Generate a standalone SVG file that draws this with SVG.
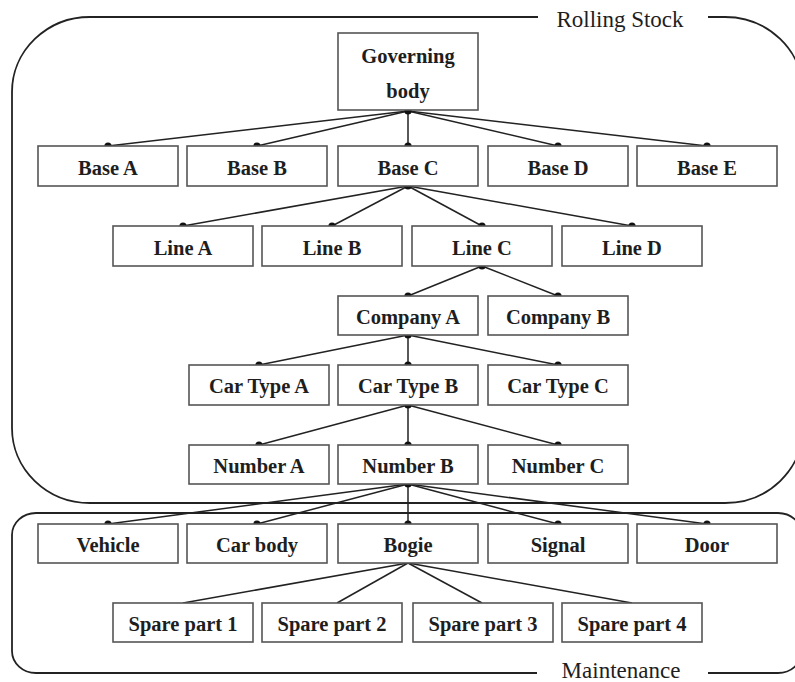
<svg xmlns="http://www.w3.org/2000/svg" width="795" height="682" viewBox="0 0 795 682">
  <style>
    .box { fill: #ffffff; stroke: #555555; stroke-width: 1.6; }
    .lbl { font-family: "Liberation Serif", "Times New Roman", serif; font-size: 20.5px; font-weight: bold; fill: #1e1e1e; text-anchor: middle; }
    .title { font-family: "Liberation Serif", "Times New Roman", serif; font-size: 23px; fill: #1e1e1e; text-anchor: middle; }
    .frame { fill: none; stroke: #222222; stroke-width: 1.8; }
    .conn line { stroke: #222222; stroke-width: 1.5; }
    .conn circle { fill: #111111; }
  </style>
  <rect width="795" height="682" fill="#ffffff"/>

  <!-- group frames -->
  <g id="frame-rolling-stock">
    <path class="frame" d="M538,17 L90,17 A78,75 0 0 0 12,92 L12,428 A78,75 0 0 0 90,503 L725,503 A78,75 0 0 0 803,428 L803,92 A78,75 0 0 0 725,17 L708,17"/>
    <text class="title" x="620" y="27">Rolling Stock</text>
  </g>
  <g id="frame-maintenance">
    <path class="frame" d="M537,673 L36,673 A24,22 0 0 1 12,651 L12,535 A24,22 0 0 1 36,513 L778,513 A24,22 0 0 1 802,535 L802,651 A24,22 0 0 1 778,673 L708,673"/>
    <text class="title" x="621" y="678">Maintenance</text>
  </g>

  <!-- connectors -->
  <g id="connectors" class="conn">
    <!-- Governing body to bases -->
    <line x1="408" y1="111" x2="108" y2="146"/>
    <line x1="408" y1="111" x2="257" y2="146"/>
    <line x1="408" y1="111" x2="408" y2="146"/>
    <line x1="408" y1="111" x2="558" y2="146"/>
    <line x1="408" y1="111" x2="707" y2="146"/>
    <circle cx="408" cy="111" r="3.6"/>
    <circle cx="108" cy="146" r="3.6"/>
    <circle cx="257" cy="146" r="3.6"/>
    <circle cx="408" cy="146" r="3.6"/>
    <circle cx="558" cy="146" r="3.6"/>
    <circle cx="707" cy="146" r="3.6"/>
    <!-- Base C to lines -->
    <line x1="408" y1="186" x2="183" y2="226"/>
    <line x1="408" y1="186" x2="332" y2="226"/>
    <line x1="408" y1="186" x2="482" y2="226"/>
    <line x1="408" y1="186" x2="632" y2="226"/>
    <circle cx="408" cy="186" r="3.6"/>
    <circle cx="183" cy="226" r="3.6"/>
    <circle cx="332" cy="226" r="3.6"/>
    <circle cx="482" cy="226" r="3.6"/>
    <circle cx="632" cy="226" r="3.6"/>
    <!-- Line C to companies -->
    <line x1="482" y1="266" x2="408" y2="296"/>
    <line x1="482" y1="266" x2="558" y2="296"/>
    <circle cx="482" cy="266" r="3.6"/>
    <circle cx="408" cy="296" r="3.6"/>
    <circle cx="558" cy="296" r="3.6"/>
    <!-- Company A to car types -->
    <line x1="408" y1="335" x2="259" y2="365"/>
    <line x1="408" y1="335" x2="408" y2="365"/>
    <line x1="408" y1="335" x2="558" y2="365"/>
    <circle cx="408" cy="335" r="3.6"/>
    <circle cx="259" cy="365" r="3.6"/>
    <circle cx="408" cy="365" r="3.6"/>
    <circle cx="558" cy="365" r="3.6"/>
    <!-- Car Type B to numbers -->
    <line x1="408" y1="405" x2="259" y2="445"/>
    <line x1="408" y1="405" x2="408" y2="445"/>
    <line x1="408" y1="405" x2="558" y2="445"/>
    <circle cx="408" cy="405" r="3.6"/>
    <circle cx="259" cy="445" r="3.6"/>
    <circle cx="408" cy="445" r="3.6"/>
    <circle cx="558" cy="445" r="3.6"/>
    <!-- Number B to components -->
    <line x1="408" y1="484" x2="108" y2="524"/>
    <line x1="408" y1="484" x2="257" y2="524"/>
    <line x1="408" y1="484" x2="408" y2="524"/>
    <line x1="408" y1="484" x2="558" y2="524"/>
    <line x1="408" y1="484" x2="707" y2="524"/>
    <circle cx="408" cy="484" r="3.6"/>
    <circle cx="108" cy="524" r="3.6"/>
    <circle cx="257" cy="524" r="3.6"/>
    <circle cx="408" cy="524" r="3.6"/>
    <circle cx="558" cy="524" r="3.6"/>
    <circle cx="707" cy="524" r="3.6"/>
    <!-- Bogie to spare parts -->
    <line x1="408" y1="563" x2="183" y2="603"/>
    <line x1="408" y1="563" x2="337" y2="603"/>
    <line x1="408" y1="563" x2="482" y2="603"/>
    <line x1="408" y1="563" x2="632" y2="603"/>
  </g>

  <!-- nodes -->
  <g id="governing-body"><rect class="box" x="338" y="33" width="140" height="77"/><text class="lbl" x="408" y="63">Governing</text><text class="lbl" x="408" y="98">body</text></g>

  <g id="base-a"><rect class="box" x="38" y="146" width="140" height="40"/><text class="lbl" x="108" y="175">Base A</text></g>
  <g id="base-b"><rect class="box" x="187" y="146" width="140" height="40"/><text class="lbl" x="257" y="175">Base B</text></g>
  <g id="base-c"><rect class="box" x="338" y="146" width="140" height="40"/><text class="lbl" x="408" y="175">Base C</text></g>
  <g id="base-d"><rect class="box" x="488" y="146" width="140" height="40"/><text class="lbl" x="558" y="175">Base D</text></g>
  <g id="base-e"><rect class="box" x="637" y="146" width="140" height="40"/><text class="lbl" x="707" y="175">Base E</text></g>

  <g id="line-a"><rect class="box" x="113" y="226" width="140" height="40"/><text class="lbl" x="183" y="255">Line A</text></g>
  <g id="line-b"><rect class="box" x="262" y="226" width="140" height="40"/><text class="lbl" x="332" y="255">Line B</text></g>
  <g id="line-c"><rect class="box" x="412" y="226" width="140" height="40"/><text class="lbl" x="482" y="255">Line C</text></g>
  <g id="line-d"><rect class="box" x="562" y="226" width="140" height="40"/><text class="lbl" x="632" y="255">Line D</text></g>

  <g id="company-a"><rect class="box" x="338" y="296" width="140" height="39"/><text class="lbl" x="408" y="324">Company A</text></g>
  <g id="company-b"><rect class="box" x="488" y="296" width="140" height="39"/><text class="lbl" x="558" y="324">Company B</text></g>

  <g id="car-type-a"><rect class="box" x="189" y="365" width="140" height="40"/><text class="lbl" x="259" y="393">Car Type A</text></g>
  <g id="car-type-b"><rect class="box" x="338" y="365" width="140" height="40"/><text class="lbl" x="408" y="393">Car Type B</text></g>
  <g id="car-type-c"><rect class="box" x="488" y="365" width="140" height="40"/><text class="lbl" x="558" y="393">Car Type C</text></g>

  <g id="number-a"><rect class="box" x="189" y="445" width="140" height="39"/><text class="lbl" x="259" y="473">Number A</text></g>
  <g id="number-b"><rect class="box" x="338" y="445" width="140" height="39"/><text class="lbl" x="408" y="473">Number B</text></g>
  <g id="number-c"><rect class="box" x="488" y="445" width="140" height="39"/><text class="lbl" x="558" y="473">Number C</text></g>

  <g id="vehicle"><rect class="box" x="38" y="524" width="140" height="39"/><text class="lbl" x="108" y="552">Vehicle</text></g>
  <g id="car-body"><rect class="box" x="187" y="524" width="140" height="39"/><text class="lbl" x="257" y="552">Car body</text></g>
  <g id="bogie"><rect class="box" x="338" y="524" width="140" height="39"/><text class="lbl" x="408" y="552">Bogie</text></g>
  <g id="signal"><rect class="box" x="488" y="524" width="140" height="39"/><text class="lbl" x="558" y="552">Signal</text></g>
  <g id="door"><rect class="box" x="637" y="524" width="140" height="39"/><text class="lbl" x="707" y="552">Door</text></g>

  <g id="spare-part-1"><rect class="box" x="113" y="603" width="140" height="39"/><text class="lbl" x="183" y="631">Spare part 1</text></g>
  <g id="spare-part-2"><rect class="box" x="262" y="603" width="140" height="39"/><text class="lbl" x="332" y="631">Spare part 2</text></g>
  <g id="spare-part-3"><rect class="box" x="413" y="603" width="140" height="39"/><text class="lbl" x="483" y="631">Spare part 3</text></g>
  <g id="spare-part-4"><rect class="box" x="562" y="603" width="140" height="39"/><text class="lbl" x="632" y="631">Spare part 4</text></g>
</svg>
